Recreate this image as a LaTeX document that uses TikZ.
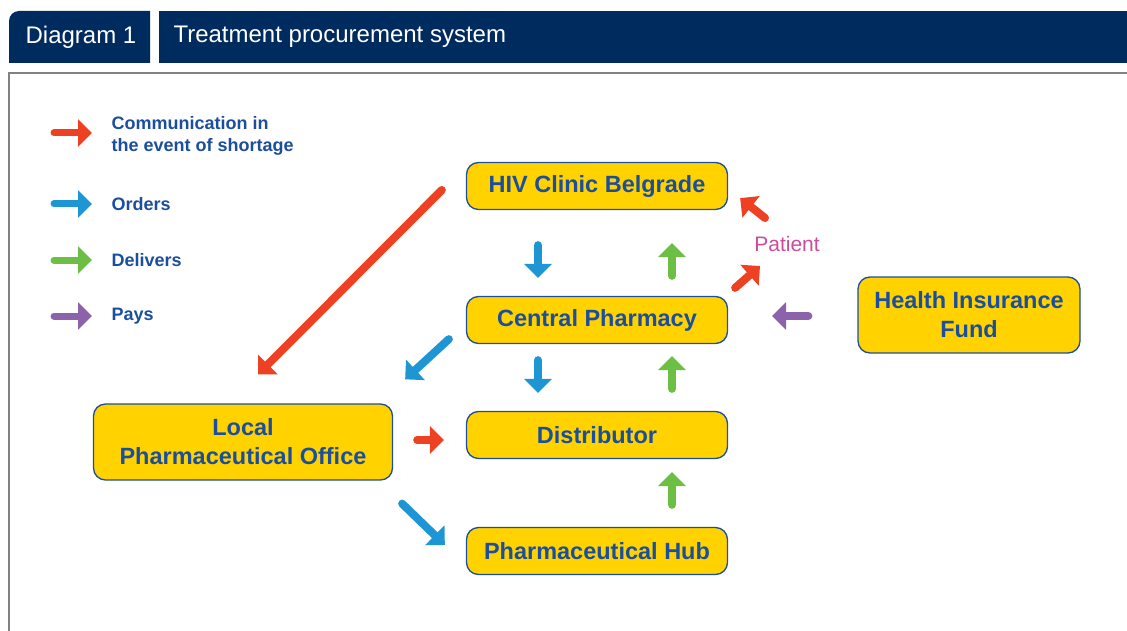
\documentclass[tikz,border=0pt]{standalone}
\usepackage{fontspec}
\setmainfont{Liberation Sans}
\usetikzlibrary{arrows.meta,positioning}
\definecolor{navy}{RGB}{0,43,94}
\definecolor{boxyellow}{RGB}{255,210,0}
\definecolor{boxblue}{RGB}{28,78,158}
\definecolor{redarr}{RGB}{238,64,35}
\definecolor{bluearr}{RGB}{30,150,212}
\definecolor{greenarr}{RGB}{108,190,69}
\definecolor{purplearr}{RGB}{140,98,170}
\definecolor{patientpink}{RGB}{204,76,155}
\definecolor{framegray}{RGB}{130,130,130}
\tikzset{
  agent/.style={draw=boxblue, line width=1.3pt, fill=boxyellow, rounded corners=12pt,
    text=boxblue, font=\bfseries\fontsize{23.5}{29}\selectfont, align=center,
    minimum width=261pt, minimum height=47pt, inner sep=0pt},
  keytext/.style={anchor=west, align=left, text=boxblue,
    font=\bfseries\fontsize{18}{22.5}\selectfont},
  flow/.style={line width=8pt, line cap=round, -{Triangle[length=14pt,width=27pt]}},
  keyflow/.style={flow, line width=7pt},
  shortage/.style={flow, redarr},
  orders/.style={flow, bluearr},
  delivers/.style={flow, greenarr},
  pays/.style={flow, purplearr},
}
\begin{document}
\begin{tikzpicture}[x=1pt, y=-1pt]
  \useasboundingbox (0,0) rectangle (1127,631);
  % header
  \fill[navy] (9,63) [rounded corners=10pt] -- (9,11) [sharp corners] -- (150,11) -- (150,63) -- cycle;
  \fill[navy] (159,11) rectangle (1127,63);
  \node[text=white, font=\fontsize{24}{28}\selectfont] (tab) at (81,37) {Diagram 1};
  \node[text=white, font=\fontsize{24}{28}\selectfont, anchor=west] (title) at (170,37) {Treatment procurement system};
  \draw[framegray, line width=1.2pt] (9,631) -- (9,73) -- (1127,73);

  % legend
  \node[keytext] (keyred) at (108,136) {Communication in\\the event of shortage};
  \node[keytext] (keyblue) at (108,204) {Orders};
  \node[keytext] (keygreen) at (108,260) {Delivers};
  \node[keytext] (keypurple) at (108,316) {Pays};
  \draw[keyflow, redarr] ([shift={(-54,-3)}]keyred.west) -- ([shift={(-16,-3)}]keyred.west);
  \draw[keyflow, bluearr] ([xshift=-54]keyblue.west) -- ([xshift=-16]keyblue.west);
  \draw[keyflow, greenarr] ([xshift=-54]keygreen.west) -- ([xshift=-16]keygreen.west);
  \draw[keyflow, purplearr] ([xshift=-54]keypurple.west) -- ([xshift=-16]keypurple.west);

  % actors
  \node[agent] (hiv) at (597,186) {HIV Clinic Belgrade};
  \node[agent] (central) at (597,320) {Central Pharmacy};
  \node[agent] (distributor) at (597,435) {Distributor};
  \node[agent] (hub) at (597,551) {Pharmaceutical Hub};
  \node[agent, minimum width=299pt, minimum height=76pt] (office) at (243,442) {Local\\Pharmaceutical Office};
  \node[agent, minimum width=222pt, minimum height=76pt] (fund) at (969,315) {Health Insurance\\Fund};
  \node[text=patientpink, font=\fontsize{21}{25}\selectfont] (patient) at (787,244) {Patient};

  % flows
  \draw[shortage] ([shift={(-24,4)}]hiv.west) -- ([shift={(15,-29)}]office.north);
  \draw[orders, shorten <=35pt, shorten >=18pt] ([xshift=-59]hiv.south) -- ([xshift=-59]central.north);
  \draw[orders, shorten <=16pt, shorten >=18pt] ([xshift=-59]central.south) -- ([xshift=-59]distributor.north);
  \draw[delivers, shorten <=20pt, shorten >=33pt] ([xshift=75]central.north) -- ([xshift=75]hiv.south);
  \draw[delivers, shorten <=22pt, shorten >=12pt] ([xshift=75]distributor.north) -- ([xshift=75]central.south);
  \draw[delivers, shorten <=22pt, shorten >=13pt] ([xshift=75]hub.north) -- ([xshift=75]distributor.south);
  \draw[shortage] ([shift={(7,-8)}]central.north east) -- ([shift={(-27,22)}]patient.center);
  \draw[shortage] ([shift={(-22,-26)}]patient.center) -- ([shift={(12,-12)}]hiv.south east);
  \draw[pays, shorten <=49pt, shorten >=44pt] ([shift={(0,1)}]fund.west) -- ([shift={(0,-4)}]central.east);
  \draw[orders] ([shift={(-17,-5)}]central.south west) -- ([shift={(12,-24)}]office.north east);
  \draw[shortage, shorten <=24pt, shorten >=22pt] ([shift={(0,-2)}]office.east) -- ([shift={(0,5)}]distributor.west);
  \draw[orders] ([shift={(9,23)}]office.south east) -- ([shift={(-21,-6)}]hub.west);
\end{tikzpicture}
\end{document}
